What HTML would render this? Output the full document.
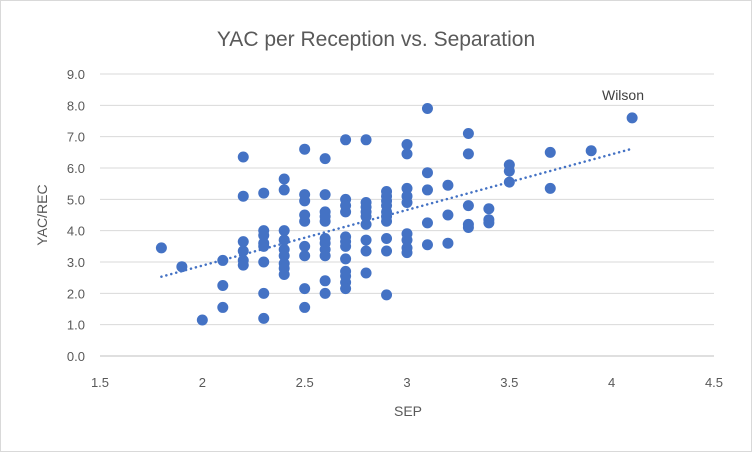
<!DOCTYPE html>
<html><head><meta charset="utf-8"><style>
body{margin:0;background:#fff}
svg{display:block;font-family:"Liberation Sans",sans-serif}
</style></head><body>
<svg width="752" height="452">
<rect x="0.5" y="0.5" width="751" height="451" fill="#fff" stroke="#d9d9d9"/>
<text x="376" y="46" text-anchor="middle" font-size="21" fill="#595959">YAC per Reception vs. Separation</text>
<g id="grid"></g><g id="axes"></g><g id="trend"></g><g id="pts"></g>
<text x="623" y="100" text-anchor="middle" font-size="14" fill="#404040">Wilson</text>
<text x="408" y="416" text-anchor="middle" font-size="14" fill="#595959">SEP</text>
<text transform="translate(47,215) rotate(-90)" text-anchor="middle" font-size="14" fill="#595959">YAC/REC</text>
</svg>
<script>
const xTicks=[1.5,2,2.5,3,3.5,4,4.5];
const yTicks=[0,1,2,3,4,5,6,7,8,9];
const sepValues=[1.8,1.9,2.0,2.1,2.1,2.1,
2.2,2.2,2.2,2.2,2.2,2.2,
2.3,2.3,2.3,2.3,2.3,2.3,2.3,2.3,
2.4,2.4,2.4,2.4,2.4,2.4,2.4,2.4,2.4,
2.5,2.5,2.5,2.5,2.5,2.5,2.5,2.5,2.5,
2.6,2.6,2.6,2.6,2.6,2.6,2.6,2.6,2.6,2.6,2.6,
2.7,2.7,2.7,2.7,2.7,2.7,2.7,2.7,2.7,2.7,2.7,2.7,
2.8,2.8,2.8,2.8,2.8,2.8,2.8,2.8,2.8,
2.9,2.9,2.9,2.9,2.9,2.9,2.9,2.9,2.9,2.9,
3.0,3.0,3.0,3.0,3.0,3.0,3.0,3.0,3.0,
3.1,3.1,3.1,3.1,3.1,
3.2,3.2,3.2,
3.3,3.3,3.3,3.3,3.3,
3.4,3.4,3.4,
3.5,3.5,3.5,
3.7,3.7,3.9,4.1];
const yacValues=[3.45,2.85,1.15,3.05,2.25,1.55,
6.35,5.1,3.65,3.35,3.05,2.9,
5.2,4.0,3.85,3.6,3.5,3.0,2.0,1.2,
5.65,5.3,4.0,3.7,3.4,3.2,2.95,2.8,2.6,
6.6,5.15,4.95,4.5,4.3,3.5,3.2,2.15,1.55,
6.3,5.15,4.6,4.45,4.3,3.75,3.6,3.4,3.2,2.4,2.0,
6.9,5.0,4.8,4.6,3.8,3.65,3.5,3.1,2.7,2.55,2.35,2.15,
6.9,4.9,4.75,4.6,4.45,4.2,3.7,3.35,2.65,
5.25,5.1,4.95,4.8,4.6,4.45,4.3,3.75,3.35,1.95,
6.75,6.45,5.35,5.1,4.9,3.9,3.7,3.45,3.3,
7.9,5.85,5.3,4.25,3.55,
5.45,4.5,3.6,
7.1,6.45,4.8,4.2,4.1,
4.7,4.35,4.25,
6.1,5.9,5.55,
6.5,5.35,6.55,7.6];
const X0=100,X1=714,Y0=356,Y1=74;
const sx=v=>X0+(v-1.5)/3*(X1-X0);
const sy=v=>Y0-(v/9)*(Y0-Y1);
const NS="http://www.w3.org/2000/svg";
function mk(t,a,p){const e=document.createElementNS(NS,t);for(const k in a)e.setAttribute(k,a[k]);p.appendChild(e);return e;}
const grid=document.getElementById('grid'),axes=document.getElementById('axes'),pts=document.getElementById('pts'),trend=document.getElementById('trend');
yTicks.forEach(t=>{
 const l=mk('line',{x1:X0,x2:X1,y1:sy(t),y2:sy(t),stroke:t===0?'#bfbfbf':'#d9d9d9'},grid);
 
 
 const tx=mk('text',{x:X0-15,y:sy(t)+5,'text-anchor':'end','font-size':13,fill:'#595959'},axes);
 tx.textContent=t.toFixed(1);
 
 
});
xTicks.forEach(t=>{
 const tx=mk('text',{x:sx(t),y:Y0+31,'text-anchor':'middle','font-size':13,fill:'#595959'},axes);
 tx.textContent=String(t);
 
 
});
// regression
const n=sepValues.length;let mx=0,my=0;for(let i=0;i<n;i++){mx+=sepValues[i];my+=yacValues[i];}mx/=n;my/=n;
let sxy=0,sxx=0;for(let i=0;i<n;i++){sxy+=(sepValues[i]-mx)*(yacValues[i]-my);sxx+=(sepValues[i]-mx)**2;}
const b=sxy/sxx,a=my-b*mx;const xmin=Math.min(...sepValues),xmax=Math.max(...sepValues);
const tl=mk('line',{x1:sx(xmin),y1:sy(a+b*xmin),x2:sx(xmax),y2:sy(a+b*xmax),stroke:'#4472c4','stroke-width':2.5,'stroke-dasharray':'0.1 5','stroke-linecap':'round'},trend);


for(let i=0;i<n;i++){
 const c=mk('circle',{cx:sx(sepValues[i]),cy:sy(yacValues[i]),r:5.5,fill:'#4472c4'},pts);
 
 
}
</script>
</body></html>
